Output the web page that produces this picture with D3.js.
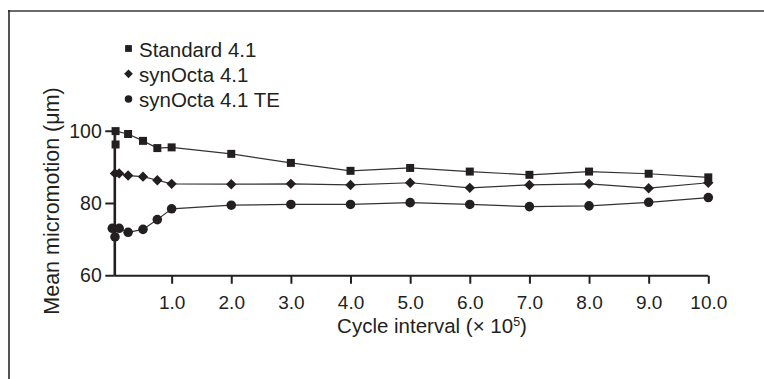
<!DOCTYPE html>
<html>
<head>
<meta charset="utf-8">
<script src="https://cdn.jsdelivr.net/npm/d3@7/dist/d3.min.js"></script>
<style>
  html, body { margin: 0; padding: 0; background: #fff; }
  svg { display: block; }
  text { font-family: "Liberation Sans", Arial, Helvetica, sans-serif; fill: #231f20; }
</style>
</head>
<body>
<svg id="chart" width="764" height="379"></svg>
<script>
// ---- data ----
const seriesNames = ["Standard 4.1", "synOcta 4.1", "synOcta 4.1 TE"];
const xTicks = [1, 2, 3, 4, 5, 6, 7, 8, 9, 10];
const yTicks = [60, 80, 100];

const standardCycles = [0.06, 0.06, 0.27, 0.52, 0.76, 1, 2, 3, 4, 5, 6, 7, 8, 9, 10];
const standardValues = [96.2, 99.9, 99.1, 97.2, 95.2, 95.4, 93.6, 91.1, 88.9, 89.7, 88.7, 87.8, 88.7, 88.1, 87.1];

const synOctaCycles = [0.05, 0.12, 0.27, 0.52, 0.76, 1, 2, 3, 4, 5, 6, 7, 8, 9, 10];
const synOctaValues = [88.2, 88.2, 87.6, 87.3, 86.3, 85.3, 85.2, 85.3, 85.0, 85.6, 84.2, 85.0, 85.3, 84.1, 85.6];

const teCycles = [0.05, 0.005, 0.12, 0.27, 0.52, 0.76, 1, 2, 3, 4, 5, 6, 7, 8, 9, 10];
const teValues = [70.6, 73.0, 73.0, 71.9, 72.7, 75.4, 78.4, 79.4, 79.6, 79.6, 80.1, 79.6, 79.0, 79.2, 80.2, 81.5];

// ---- layout ----
const svg = d3.select("#chart");
const ink = "#231f20";

const x = d3.scaleLinear().domain([0, 10]).range([112, 708.3]);
const y = d3.scaleLinear().domain([60, 100]).range([275.25, 130.75]);

// frame
svg.append("line").attr("x1", 8).attr("x2", 764).attr("y1", 11).attr("y2", 11)
  .attr("stroke", "#6b6b6b").attr("stroke-width", 2);
svg.append("line").attr("x1", 9).attr("x2", 9).attr("y1", 10).attr("y2", 379)
  .attr("stroke", "#2a2a2a").attr("stroke-width", 1.6);

// axes
const yAxisX = 114.3;
const xAxisY = y(60) + 0.5;

const xAxis = svg.append("g").attr("transform", `translate(0,${xAxisY})`)
  .call(d3.axisBottom(x).tickValues(xTicks).tickFormat(d3.format(".1f"))
    .tickSize(8).tickSizeOuter(0).tickPadding(12));
xAxis.select(".domain").attr("d", `M${yAxisX},0H${x(10)}`).attr("stroke", ink).attr("stroke-width", 2.2);
xAxis.selectAll(".tick line").attr("stroke", ink).attr("stroke-width", 2);
xAxis.selectAll(".tick text").attr("font-size", 19).attr("fill", ink)
  .style("font-family", '"Liberation Sans", Arial, sans-serif');

const yAxis = svg.append("g").attr("transform", `translate(${yAxisX},0)`)
  .call(d3.axisLeft(y).tickValues(yTicks).tickFormat(d3.format("d"))
    .tickSize(9).tickSizeOuter(0).tickPadding(3.5));
yAxis.select(".domain").attr("stroke", ink).attr("stroke-width", 2.6);
yAxis.selectAll(".tick line").attr("stroke", ink).attr("stroke-width", 2);
yAxis.selectAll(".tick text").attr("font-size", 19.5).attr("fill", ink)
  .style("font-family", '"Liberation Sans", Arial, sans-serif');

// axis titles
svg.append("text").attr("x", 432).attr("y", 333).attr("text-anchor", "middle")
  .attr("font-size", 20.5)
  .html('Cycle interval (× 10<tspan baseline-shift="super" font-size="12.5">5</tspan>)');
svg.append("text").attr("transform", "translate(59,201) rotate(-90)")
  .attr("text-anchor", "middle").attr("font-size", 21.5)
  .text("Mean micromotion (μm)");

// series
const shapes = [
  { type: d3.symbolSquare, size: 64, rot: 0, lsize: 46 },
  { type: d3.symbolSquare, size: 54, rot: 45, lsize: 38 },
  { type: d3.symbolCircle, size: 72, rot: 0, lsize: 44 }
];
const seriesData = [
  standardCycles.map((c, i) => ({ c, v: standardValues[i] })),
  synOctaCycles.map((c, i) => ({ c, v: synOctaValues[i] })),
  teCycles.map((c, i) => ({ c, v: teValues[i] }))
];

const line = d3.line().x(d => x(d.c)).y(d => y(d.v));

seriesData.forEach((data, si) => {
  const g = svg.append("g");
  g.append("path").datum(data).attr("d", line)
    .attr("fill", "none").attr("stroke", "#333").attr("stroke-width", 1.2);
  const sym = d3.symbol().type(shapes[si].type).size(shapes[si].size);
  g.selectAll("path.m").data(data).join("path").attr("class", "m")
    .attr("d", sym)
    .attr("transform", d => `translate(${x(d.c)},${y(d.v)}) rotate(${shapes[si].rot})`)
    .attr("fill", ink);
});

// legend
const legend = svg.append("g");
seriesNames.forEach((name, i) => {
  const by = 56.5 + i * 25.3;
  const sym = d3.symbol().type(shapes[i].type).size(shapes[i].lsize);
  legend.append("path").attr("d", sym)
    .attr("transform", `translate(128.5,${by - 8}) rotate(${shapes[i].rot})`)
    .attr("fill", ink);
  legend.append("text").attr("x", 139).attr("y", by).attr("font-size", 20.5).text(name);
});
</script>
</body>
</html>
